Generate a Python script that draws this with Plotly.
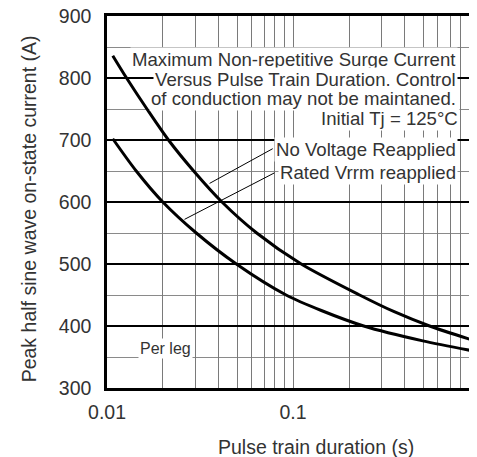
import plotly.graph_objects as go

# --- data ---
no_voltage_x = [0.01074, 0.01274, 0.0164, 0.0214, 0.02924, 0.0415, 0.0638, 0.1107, 0.228, 0.35, 0.542, 1.0]
no_voltage_y = [836, 800, 750, 700, 650, 600, 550, 500, 450, 423, 400, 374]

rated_vrrm_x = [0.01074, 0.01436, 0.01995, 0.0302, 0.0496, 0.0918, 0.142, 0.24, 0.499, 1.0]
rated_vrrm_y = [702, 650, 600, 550, 500, 450, 425, 400, 376, 358]

leader_no_voltage_x = [0.0778, 0.0356]
leader_no_voltage_y = [686, 630]
leader_rated_x = [0.0795, 0.0261]
leader_rated_y = [647, 572]

x_tickvals = [0.01, 0.02, 0.03, 0.04, 0.05, 0.06, 0.07, 0.08, 0.09,
              0.1, 0.2, 0.3, 0.4, 0.5, 0.6, 0.7, 0.8, 0.9]
x_ticktext = ["0.01", "", "", "", "", "", "", "", "",
              "0.1", "", "", "", "", "", "", "", ""]
y_tickvals = [300, 400, 500, 600, 700, 800, 900]

note_lines = ["Maximum Non-repetitive Surge Current",
              "Versus Pulse Train Duration. Control",
              "of conduction may not be maintaned.",
              "Initial Tj = 125°C",
              "No Voltage Reapplied",
              "Rated Vrrm reapplied"]
note_y = [829.5, 797.9, 766.5, 735.0, 685.2, 646.8]
note_x = [0.9473, 0.9473, 0.9473, 0.9554, 0.9473, 0.9473]

FONT = "Liberation Sans, Arial, sans-serif"
TXT = "#333333"

fig = go.Figure()
fig.add_trace(go.Scatter(x=no_voltage_x, y=no_voltage_y, mode="lines",
                         line=dict(color="black", width=3, shape="spline", smoothing=0.8),
                         showlegend=False, hoverinfo="skip"))
fig.add_trace(go.Scatter(x=rated_vrrm_x, y=rated_vrrm_y, mode="lines",
                         line=dict(color="black", width=3, shape="spline", smoothing=0.8),
                         showlegend=False, hoverinfo="skip"))
fig.add_trace(go.Scatter(x=leader_no_voltage_x, y=leader_no_voltage_y, mode="lines",
                         line=dict(color="black", width=1), showlegend=False, hoverinfo="skip"))
fig.add_trace(go.Scatter(x=leader_rated_x, y=leader_rated_y, mode="lines",
                         line=dict(color="black", width=1), showlegend=False, hoverinfo="skip"))

annotations = []
for t, yv, xv in zip(note_lines, note_y, note_x):
    annotations.append(dict(text=t, xref="paper", yref="y", x=xv, y=yv,
                            xanchor="right", yanchor="middle", showarrow=False,
                            bgcolor="white", borderpad=1,
                            font=dict(family=FONT, size=18.6, color=TXT)))
annotations.append(dict(text="Per leg", xref="paper", yref="y", x=0.085, y=364.5,
                        xanchor="left", yanchor="middle", showarrow=False,
                        bgcolor="white", borderpad=1,
                        font=dict(family=FONT, size=16, color=TXT)))
annotations.append(dict(text="1", xref="paper", yref="paper", x=1.0068, y=-0.0645,
                        xanchor="center", yanchor="middle", showarrow=False,
                        font=dict(family=FONT, size=19.5, color=TXT)))
annotations.append(dict(text="Pulse train duration (s)", xref="paper", yref="paper",
                        x=0.566, y=-0.1588, xanchor="center", yanchor="middle",
                        showarrow=False, font=dict(family=FONT, size=19.5, color=TXT)))
annotations.append(dict(text="Peak half sine wave on-state current (A)", xref="paper",
                        yref="paper", x=-0.212, y=0.4818, xanchor="center",
                        yanchor="middle", textangle=-90, showarrow=False,
                        font=dict(family=FONT, size=19.5, color=TXT)))

# the page body adds an 8px margin, so the figure is 8px smaller on each axis
fig.update_layout(
    width=469, height=449,
    margin=dict(l=99, r=0, t=8, b=69, autoexpand=False),
    paper_bgcolor="white", plot_bgcolor="white",
    font=dict(family=FONT, size=19.5, color=TXT),
    annotations=annotations,
)
fig.update_xaxes(type="log", range=[-2, -0.0108],
                 tickvals=x_tickvals, ticktext=x_ticktext, ticks="",
                 showgrid=True, gridcolor="#7a7a7a", gridwidth=1.3,
                 showline=True, linecolor="black", linewidth=2.5, mirror=True,
                 ticklabelstandoff=5, zeroline=False,
                 tickfont=dict(family=FONT, size=19.5, color=TXT))
fig.update_yaxes(range=[300, 900], tickvals=y_tickvals, ticks="",
                 showgrid=True, gridcolor="black", gridwidth=2,
                 minor=dict(dtick=50, tick0=300, showgrid=True, gridcolor="#8a8a8a", gridwidth=1),
                 showline=True, linecolor="black", linewidth=2.5, mirror=False,
                 ticklabelstandoff=9, ticklabeloverflow="allow", zeroline=False,
                 tickfont=dict(family=FONT, size=19.5, color=TXT))

fig.write_html("out.html")
